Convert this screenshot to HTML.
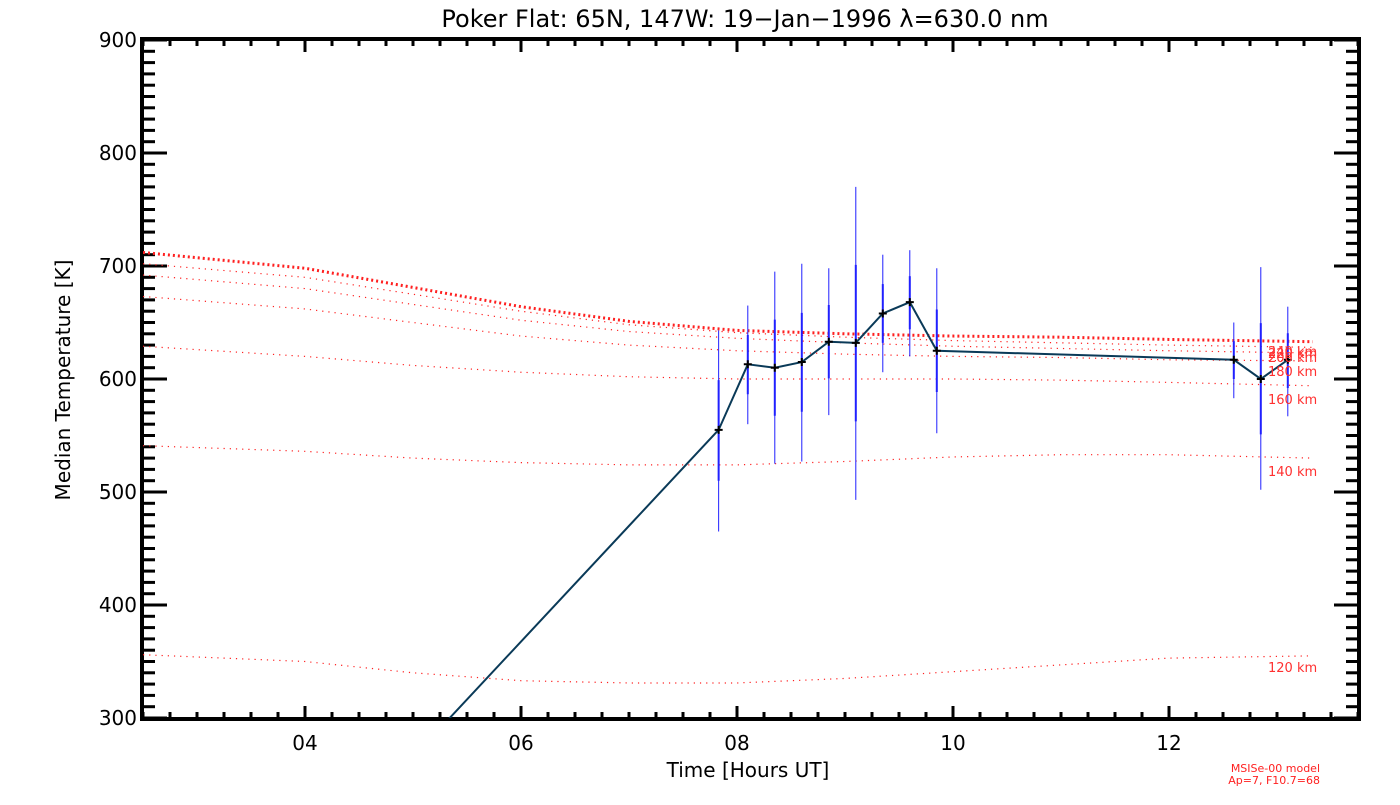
<!DOCTYPE html>
<html><head><meta charset="utf-8"><style>
html,body{margin:0;padding:0;background:#fff;}
svg text{font-family:"DejaVu Sans","Liberation Sans",sans-serif;}
</style></head><body>
<svg id="chart" width="1400" height="800" viewBox="0 0 1400 800" xmlns="http://www.w3.org/2000/svg">
<defs><clipPath id="plotclip"><rect x="143" y="40" width="1215" height="678"/></clipPath></defs>
<text x="745" y="27" font-size="24" text-anchor="middle">Poker Flat: 65N, 147W: 19−Jan−1996 λ=630.0 nm</text>
<text transform="translate(70,380) rotate(-90)" font-size="20" text-anchor="middle">Median Temperature [K]</text>
<text x="748" y="777" font-size="20" text-anchor="middle">Time [Hours UT]</text>
<text x="1320" y="772" font-size="11" fill="#ff2020" text-anchor="end">MSISe-00 model</text>
<text x="1320" y="784" font-size="11" fill="#ff2020" text-anchor="end">Ap=7, F10.7=68</text>
<g id="axes"></g>
<g id="model" clip-path="url(#plotclip)"></g>
<g id="data" clip-path="url(#plotclip)"></g>
</svg>
<script>
const modelTimes=[2.5,4,5,6,7,8,9,10,11,12,13.33];
const model120=[356,350,340,333,331,331,335,341,347,353,355];
const model140=[541,536,530,526,524,524,527,531,533,533,530];
const model160=[629,620,612,606,602,600,600,600,599,597,594];
const model180=[673,662,650,638,630,625,622,620,619,617,616];
const model200=[692,680,666,652,642,636,632,629,627,625,623];
const model220=[702,690,675,660,648,641,637,634,632,630,628];
const modelTop=[712,698,681,664,651,643,640,638,637,635,633];
const modelLabels=["120 km","140 km","160 km","180 km","200 km","220 km","240 km"];
const labelBaselines=[672,476,404,376,362,358,356];
const obsTimes=[4.5,7.83,8.1,8.35,8.6,8.85,9.1,9.35,9.6,9.85,12.6,12.85,13.1];
const obsTemps=[214,555,613,610,615,633,632,658,668,625,617,600,617];
const obsLow=[null,465,560,525,527,568,493,606,620,552,583,502,567];
const obsHigh=[null,643,665,695,702,698,770,710,714,698,650,699,664];
const xTickLabels=["04","06","08","10","12"];
const yTickLabels=["300","400","500","600","700","800","900"];

const NS="http://www.w3.org/2000/svg";
const X0=143,X1=1358,Y0=718,Y1=40,TMIN=2.5,TMAX=13.75,KMIN=300,KMAX=900;
const xs=t=>X0+(t-TMIN)/(TMAX-TMIN)*(X1-X0);
const ys=k=>Y0-(k-KMIN)/(KMAX-KMIN)*(Y0-Y1);
function mk(tag,parent,attrs){const e=document.createElementNS(NS,tag);for(const k in attrs)e.setAttribute(k,attrs[k]);parent.appendChild(e);return e;}
const axes=document.getElementById('axes');
const fr=mk('rect',axes,{x:X0-1,y:Y1-1,width:X1-X0+2,height:Y0-Y1+2,fill:'none',stroke:'#000','stroke-width':4});

for(let t=TMIN;t<=TMAX+1e-6;t+=0.25){
  const x=xs(t);const major=Math.abs(t-Math.round(t))<1e-6&&Math.round(t)%2===0;
  const L=major?12:6;
  const a=mk('line',axes,{x1:x,x2:x,y1:Y0,y2:Y0-L,stroke:'#000','stroke-width':3});
  
  const b=mk('line',axes,{x1:x,x2:x,y1:Y1,y2:Y1+L,stroke:'#000','stroke-width':3});
  
}
xTickLabels.forEach(s=>{const t=+s;const e=mk('text',axes,{x:xs(t),y:Y0+32,'font-size':20,'text-anchor':'middle'});e.textContent=s;
  });
for(let k=KMIN;k<=KMAX;k+=10){
  const y=ys(k);const major=k%100===0;const L=major?24:12;
  const a=mk('line',axes,{x1:X0,x2:X0+L,y1:y,y2:y,stroke:'#000','stroke-width':3});
  
  const b=mk('line',axes,{x1:X1,x2:X1-L,y1:y,y2:y,stroke:'#000','stroke-width':3});
  
}
yTickLabels.forEach(s=>{const e=mk('text',axes,{x:X0-6,y:ys(+s)+7,'font-size':20,'text-anchor':'end'});e.textContent=s;
  });
const mg=document.getElementById('model');
const series=[model120,model140,model160,model180,model200,model220,modelTop];
series.forEach((arr,i)=>{
  const top=i===series.length-1;
  const p=mk('polyline',mg,{points:arr.map((v,j)=>xs(modelTimes[j])+','+ys(v)).join(' '),fill:'none',stroke:'#ff2020','stroke-width':top?3:1.2,'stroke-dasharray':top?'2 3':'1.2 5'});
  
  
  const lab=mk('text',document.getElementById('chart'),{x:1268,y:labelBaselines[i],'font-size':13,fill:'#ff3030'});
  lab.textContent=modelLabels[i];
  
  
});
const dg=document.getElementById('data');
obsTimes.forEach((t,i)=>{
  if(obsLow[i]==null)return;
  const x=xs(t);
  const e=mk('line',dg,{x1:x,x2:x,y1:ys(obsLow[i]),y2:ys(obsHigh[i]),stroke:'#2020ff','stroke-width':1});
  
  const m=obsTemps[i];
  const e2=mk('line',dg,{x1:x,x2:x,y1:ys(m-(m-obsLow[i])/2),y2:ys(m+(obsHigh[i]-m)/2),stroke:'#2020ff','stroke-width':2});
  
});
const ln=mk('polyline',dg,{points:obsTimes.map((t,i)=>xs(t)+','+ys(obsTemps[i])).join(' '),fill:'none',stroke:'#0a3a58','stroke-width':2});

obsTimes.forEach((t,i)=>{
  const x=xs(t),y=ys(obsTemps[i]);
  const p=mk('path',dg,{d:`M${x-4},${y}H${x+4}M${x},${y-4}V${y+4}`,stroke:'#000','stroke-width':2});
  
});
</script>
</body></html>
